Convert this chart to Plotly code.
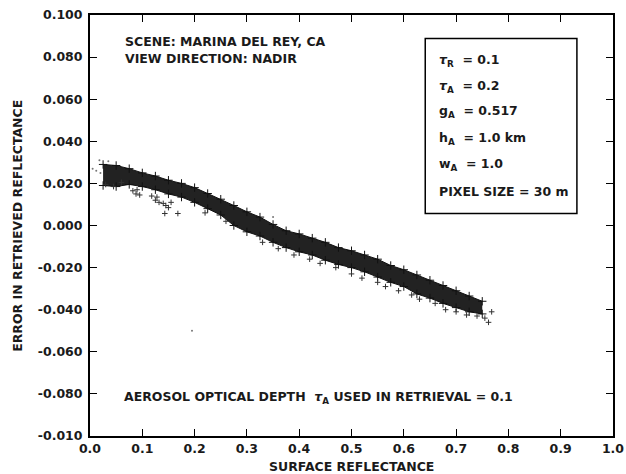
import plotly.graph_objects as go

# Axis ticks
x_ticks = [0.0, 0.1, 0.2, 0.3, 0.4, 0.5, 0.6, 0.7, 0.8, 0.9, 1.0]
x_ticktext = ["0.0", "0.1", "0.2", "0.3", "0.4", "0.5", "0.6", "0.7", "0.8", "0.9", "1.0"]
y_ticks = [0.1, 0.08, 0.06, 0.04, 0.02, 0.0, -0.02, -0.04, -0.06, -0.08, -0.1]
y_ticktext = ["0.100", "0.080", "0.060", "0.040", "0.020", "0.000",
              "-0.020", "-0.040", "-0.060", "-0.080", "-0.010"]

# Dense band of retrieval errors (upper and lower envelope)
band_x = [0.025, 0.05, 0.075, 0.10, 0.125, 0.15, 0.175, 0.20, 0.225, 0.25,
          0.275, 0.30, 0.325, 0.35, 0.375, 0.40, 0.425, 0.45, 0.475, 0.50,
          0.525, 0.55, 0.575, 0.60, 0.625, 0.65, 0.675, 0.70, 0.725, 0.75]
band_top = [0.029, 0.0285, 0.027, 0.025, 0.0235, 0.0215, 0.020, 0.018, 0.0152, 0.0125,
            0.0095, 0.0065, 0.004, 0.0005, -0.0025, -0.004, -0.006, -0.008, -0.0105, -0.012,
            -0.014, -0.016, -0.019, -0.021, -0.0235, -0.026, -0.0285, -0.031, -0.0335, -0.036]
band_bottom = [0.019, 0.0185, 0.0195, 0.0185, 0.017, 0.015, 0.0135, 0.011, 0.008, 0.005,
               0.0, -0.003, -0.005, -0.008, -0.0105, -0.0125, -0.014, -0.0165, -0.0185, -0.020,
               -0.022, -0.0245, -0.027, -0.029, -0.0325, -0.0345, -0.037, -0.039, -0.041, -0.042]

# Individual pixels scattered just outside the band
pts_x = [0.030, 0.045, 0.060,
         0.082, 0.088, 0.095, 0.090,
         0.118, 0.125, 0.132, 0.140, 0.145, 0.150, 0.155, 0.128, 0.143, 0.168,
         0.220, 0.260, 0.330, 0.360, 0.390, 0.420, 0.440, 0.470, 0.500, 0.520,
         0.550, 0.565, 0.590, 0.615, 0.630, 0.660, 0.680, 0.700, 0.720, 0.740,
         0.755, 0.762, 0.768]
pts_y = [0.0195, 0.0185, 0.0205,
         0.0165, 0.015, 0.0145, 0.017,
         0.014, 0.012, 0.011, 0.0105, 0.0095, 0.0085, 0.011, 0.0135, 0.0057, 0.0057,
         0.006, 0.002, -0.008, -0.011, -0.014, -0.016, -0.018, -0.020, -0.023, -0.025,
         -0.027, -0.029, -0.031, -0.033, -0.035, -0.037, -0.040, -0.041, -0.0425, -0.043,
         -0.044, -0.046, -0.041]

# Isolated faint specks
stray_x = [0.005, 0.012, 0.018, 0.020, 0.035, 0.350, 0.195]
stray_y = [0.027, 0.026, 0.031, 0.025, 0.0305, 0.004, -0.050]

fig = go.Figure()

fig.add_trace(go.Scatter(x=band_x, y=band_top, mode="lines+markers",
                         line=dict(color="#111111", width=1),
                         marker=dict(symbol="cross-thin", size=6,
                                     line=dict(color="#111111", width=1)),
                         showlegend=False, hoverinfo="skip"))
fig.add_trace(go.Scatter(x=band_x, y=band_bottom, mode="lines+markers", fill="tonexty",
                         fillcolor="#222222",
                         line=dict(color="#111111", width=1),
                         marker=dict(symbol="cross-thin", size=6,
                                     line=dict(color="#111111", width=1)),
                         showlegend=False, hoverinfo="skip"))
fig.add_trace(go.Scatter(x=pts_x, y=pts_y, mode="markers",
                         marker=dict(symbol="cross-thin", size=4,
                                     line=dict(color="#333333", width=1)),
                         showlegend=False))
fig.add_trace(go.Scatter(x=stray_x, y=stray_y, mode="markers",
                         marker=dict(symbol="circle", size=2, color="#777777"),
                         showlegend=False))

font_family = "DejaVu Sans, Liberation Sans, sans-serif"
ann_font = dict(size=12.5, family=font_family, weight="bold", color="#1a1a1a")
tick_font = dict(size=12.5, family=font_family, weight="bold", color="#1a1a1a")

fig.update_layout(
    width=626, height=474,
    margin=dict(l=90, r=13, t=15, b=38),
    paper_bgcolor="white", plot_bgcolor="white",
    font=dict(family=font_family, size=12, color="black"),
    xaxis=dict(range=[0, 1], tickvals=x_ticks, ticktext=x_ticktext,
               ticks="inside", ticklen=7, tickwidth=1.2, tickcolor="black",
               showline=True, linecolor="black", linewidth=2, mirror="ticks",
               showgrid=False, zeroline=False, automargin=False,
               tickfont=tick_font),
    yaxis=dict(range=[-0.1, 0.1], tickvals=y_ticks, ticktext=y_ticktext,
               ticks="inside", ticklen=7, tickwidth=1.2, tickcolor="black",
               showline=True, linecolor="black", linewidth=2, mirror="ticks",
               showgrid=False, zeroline=False, automargin=False,
               ticklabelstandoff=3,
               tickfont=tick_font),
)

# axis titles
fig.add_annotation(x=0.5, y=-0.072, xref="paper", yref="paper", xanchor="center",
                   yanchor="middle", showarrow=False, text="SURFACE REFLECTANCE",
                   font=ann_font)
fig.add_annotation(x=-0.139, y=0.5, xref="paper", yref="paper", xanchor="center",
                   yanchor="middle", showarrow=False, textangle=-90,
                   text="ERROR IN RETRIEVED REFLECTANCE", font=ann_font)

fig.add_annotation(x=0.064, y=0.0874, xref="x", yref="y", xanchor="left",
                   showarrow=False, text="SCENE: MARINA DEL REY, CA", font=ann_font)
fig.add_annotation(x=0.064, y=0.0793, xref="x", yref="y", xanchor="left",
                   showarrow=False, text="VIEW DIRECTION: NADIR", font=ann_font)

# parameter box
fig.add_shape(type="rect", xref="x", yref="y", x0=0.641, x1=0.931, y0=0.0057, y1=0.0888,
              line=dict(color="black", width=1.5), fillcolor="white")
box_lines = ["<i>τ</i><sub>R</sub>  = 0.1", "<i>τ</i><sub>A</sub>  = 0.2",
             "g<sub>A</sub>  = 0.517", "h<sub>A</sub>  = 1.0 km",
             "w<sub>A</sub>  = 1.0", "PIXEL SIZE = 30 m"]
box_y = [0.0785, 0.066, 0.054, 0.0415, 0.029, 0.016]
for t, yy in zip(box_lines, box_y):
    fig.add_annotation(x=0.663, y=yy, xref="x", yref="y", xanchor="left",
                       showarrow=False, text=t, font=ann_font)

fig.add_annotation(x=0.062, y=-0.0815, xref="x", yref="y", xanchor="left",
                   showarrow=False,
                   text="AEROSOL OPTICAL DEPTH  <i>τ</i><sub>A</sub> USED IN RETRIEVAL = 0.1",
                   font=ann_font)

fig.write_html("out.html", config={"displayModeBar": False},
               post_script="document.body.style.margin='0';document.body.style.padding='0';")
